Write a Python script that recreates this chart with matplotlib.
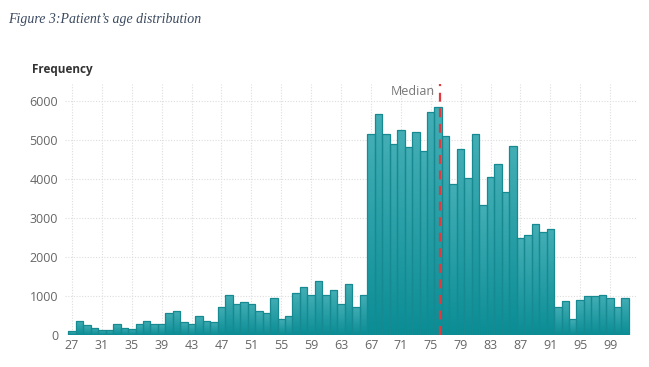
import numpy as np
import matplotlib
matplotlib.use("Agg")
import matplotlib.pyplot as plt
from matplotlib.colors import LinearSegmentedColormap

# patient counts by age (27..101)
ages = list(range(27, 102))
counts = [
    90, 370, 250, 180, 135, 135, 280, 180, 160, 280,      # 27-36
    370, 280, 280, 565, 605, 325, 280, 480, 370, 325,     # 37-46
    720, 1035, 800, 845, 800, 605, 565, 950, 410, 480,    # 47-56
    1075, 1230, 1035, 1390, 1035, 1145, 795, 1315, 720, 1030,  # 57-66
    5145, 5667, 5145, 4900, 5250, 4820, 5205, 4720, 5725, 5855,  # 67-76
    5095, 3880, 4770, 4035, 5145, 3325, 4060, 4385, 3665, 4855,  # 77-86
    2487, 2564, 2846, 2650, 2718, 718, 880, 410, 906, 991,       # 87-96
    991, 1034, 957, 718, 957,                                    # 97-101
]
median_age = 76.2
xtick_labels = list(range(27, 100, 4))
ytick_values = [0, 1000, 2000, 3000, 4000, 5000, 6000]

plt.rcParams["font.family"] = ["Open Sans", "DejaVu Sans"]

fig = plt.figure(figsize=(6.49, 3.67), dpi=100)
ax = fig.add_axes([65 / 649, 32 / 367, 572 / 649, 251 / 367])

# gradient fill for the bars (darker at the base)
cmap = LinearSegmentedColormap.from_list("teal", ["#0a8d95", "#44aeb5"])
grad = np.linspace(0, 1, 256).reshape(-1, 1)

bars = ax.bar(ages, counts, width=1.0, color="none", edgecolor="#178a91",
              linewidth=0.9, zorder=3)
for b in bars:
    x0, w, h = b.get_x(), b.get_width(), b.get_height()
    im = ax.imshow(grad, cmap=cmap, aspect="auto", origin="lower",
                   extent=[x0, x0 + w, 0, h], zorder=2)
    im.set_clip_path(b)

ax.set_xlim(26.06, 102.6)
ax.set_ylim(0, 6436)

# median line
ax.axvline(median_age, color="#e0393e", linestyle=(0, (4, 3)), linewidth=1.6, zorder=4)
ax.text(median_age - 0.7, 6250, "Median", ha="right", va="center",
        fontsize=9, color="#777777", zorder=5)

ax.set_xticks(xtick_labels)
ax.set_yticks(ytick_values)
ax.tick_params(axis="both", length=0, labelsize=9, colors="#666666")
ax.tick_params(axis="x", pad=3)
ax.tick_params(axis="y", pad=5)
ax.grid(True, color="#dddddd", linestyle=(0, (1, 1.5)), linewidth=0.8, zorder=0)
for s in ax.spines.values():
    s.set_visible(False)

fig.text(8 / 649, 1 - 20 / 367, "Figure 3:Patient\u2019s age distribution",
         family="Liberation Serif", style="italic", fontsize=10,
         color="#3b4a60", va="center", ha="left")
fig.text(32 / 649, 1 - 70 / 367, "Frequency", fontsize=8.5,
         fontweight="bold", color="#333333", va="center", ha="left")

fig.savefig("out.png", dpi=100)
